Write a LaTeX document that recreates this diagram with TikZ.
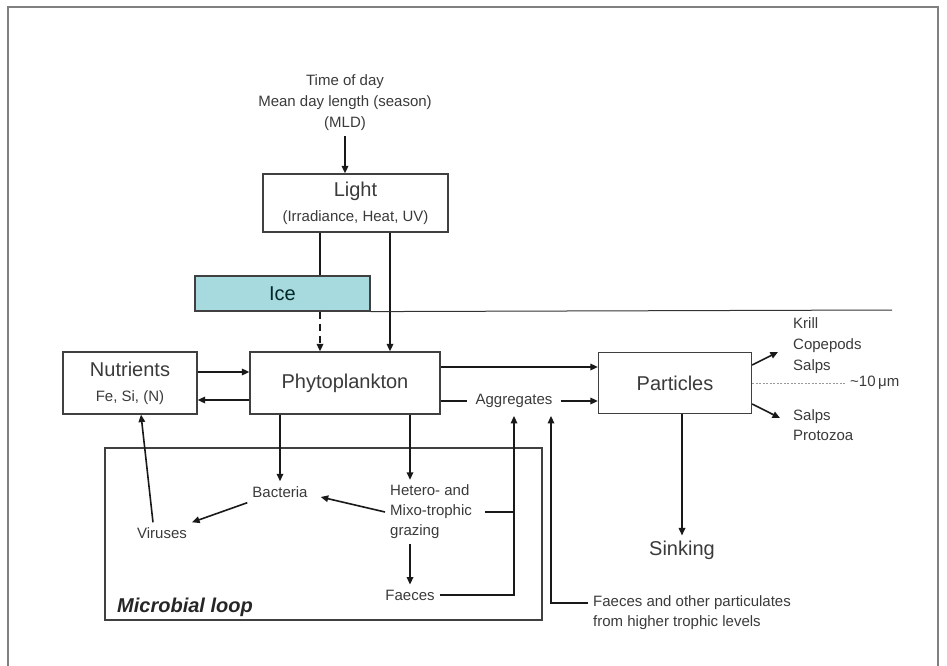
\documentclass[tikz,border=0pt]{standalone}
\usepackage{fontspec}
\setmainfont{Liberation Sans}
\usepackage{tikz}
\usetikzlibrary{arrows.meta}
\definecolor{icefill}{HTML}{A6DADF}
\definecolor{txtgray}{HTML}{3A3A3A}
\tikzset{
  fcbox/.style={draw=black!75, line width=1.2pt, inner sep=0pt, text=txtgray, align=center},
  fctwo/.style={font=\fontsize{15}{25}\selectfont},
  fctext/.style={inner sep=5pt, text=txtgray, font=\fontsize{15}{20}\selectfont},
  fcbig/.style={inner sep=5pt, text=txtgray, font=\fontsize{20}{24}\selectfont},
  fcline/.style={line width=1.6pt, draw=black!90},
  fcarrow/.style={fcline, -{Triangle[length=7.5pt,width=6.5pt]}}
}
\newcommand{\fcboxnode}[6] {\node at (#1) (#2) [fcbox, minimum width=#3, minimum height=#4, #5] {#6};}
\newcommand{\fctwolines}[2] {{\fontsize{20}{25}\selectfont #1}\\#2}

\begin{document}
\begin{tikzpicture}[x=1pt,y=-1pt]
\useasboundingbox (0,0) rectangle (947,666);

% frame
\draw [black!50, line width=1.5pt] (8,666) -- (8,7) -- (938,7) -- (938,666);

\fcboxnode {355.5,203} {light} {185pt} {58pt} {fctwo} {\fctwolines{Light}{(Irradiance, Heat, UV)}};
\fcboxnode {282.5,293.5} {ice} {175pt} {35pt} {fill=icefill, fcbig, inner sep=0pt, text=black!70!teal} {Ice};
\fcboxnode {345,383} {phyto} {190pt} {62pt} {fcbig, inner sep=0pt} {Phytoplankton};
\fcboxnode {130,383} {nutrients} {134pt} {62pt} {fctwo} {\fctwolines{Nutrients}{Fe, Si, (N)}};
\fcboxnode {675,383} {particles} {153pt} {61pt} {fcbig, inner sep=0pt} {Particles};
\fcboxnode {323.5,534} {loop} {437pt} {172pt} {} {};

\node at (345,103) (time) [fctext, align=center, font=\fontsize{15}{21}\selectfont]
  {Time of day\\Mean day length (season)\\(MLD)};
\node at (280,492) (bacteria) [fctext] {Bacteria};
\node at (385,512) (grazing) [fctext, anchor=west, align=left] {Hetero- and\\Mixo-trophic\\grazing};
\node at (162,533) (viruses) [fctext] {Viruses};
\node at (410,595) (faeces) [fctext] {Faeces};
\node at (514,401) (aggregates) [fctext, inner sep=8pt] {Aggregates};
\node at (682,550) (sinking) [fcbig] {Sinking};
\node at (788,346) (grazers) [fctext, anchor=west, align=left, font=\fontsize{15}{21}\selectfont] {Krill\\Copepods\\Salps};
\node at (788,425) (smallgrazers) [fctext, anchor=west, align=left] {Salps\\Protozoa};
\node at (845,383) (size) [fctext, anchor=west] {\textasciitilde10\,μm};
\node at (588,613) (higher) [fctext, anchor=west, align=left] {Faeces and other particulates\\from higher trophic levels};
\node at (112,607) (looplabel) [fcbig, anchor=west, font=\fontsize{20}{24}\selectfont\bfseries\itshape, text=black!85] {Microbial loop};

\coordinate (icex) at (320,0);
\coordinate (lightx) at (390,0);
\coordinate (grazex) at (410,0);
\coordinate (seaend) at (892,310);
\coordinate (nin) at ([yshift=11pt]nutrients.east);
\coordinate (nout) at ([yshift=-17pt]nutrients.east);
\coordinate (pup) at ([yshift=16pt]phyto.east);
\coordinate (krilltip) at (778,352);
\coordinate (salptip) at (780,418);

\draw [fcarrow] (time.south) -- (time.south |- light.north);
\draw [fcline] (light.south -| icex) -- (ice.north -| icex);
\draw [fcarrow, dashed, dash pattern=on 7pt off 5pt] (ice.south -| icex) -- (phyto.north -| icex);
\draw [fcarrow] (light.south -| lightx) -- (phyto.north -| lightx);
\draw [line width=1pt, black!80] (ice.south east) -- (seaend);

\draw [fcarrow] (nin) -- (nin -| phyto.west);
\draw [fcarrow] (nout -| phyto.west) -- (nout);
\draw [fcarrow] (pup) -- (pup -| particles.west);
\draw [fcline] (phyto.east |- aggregates) -- (aggregates.west);
\draw [fcarrow] (aggregates.east) -- (aggregates.east -| particles.west);

\draw [fcarrow] ([yshift=18pt]particles.east) -- (krilltip);
\draw [fcarrow] ([yshift=-21pt]particles.east) -- (salptip);
\draw [black!40, line width=1pt, dashed, dash pattern=on 2pt off 1.5pt] (particles.east) -- (size.west);
\draw [fcarrow] (particles.south -| sinking) -- (sinking.north);

\draw [fcarrow] (phyto.south -| bacteria) -- (bacteria.north);
\draw [fcarrow] (phyto.south -| grazex) -- (grazing.north -| grazex);
\draw [fcarrow] (grazing.west) -- ([xshift=8pt,yshift=-5pt]bacteria.east);
\draw [fcarrow] (bacteria.south west) -- (viruses.north east);
\draw [fcarrow] ([xshift=-9pt]viruses.north) -- ([xshift=11pt]nutrients.south);
\draw [fcarrow] (grazing.south -| faeces) -- (faeces.north);
\draw [fcarrow] (faeces.east) -| (aggregates.south);
\draw [fcline] ([xshift=8pt]grazing.east) -- (grazing -| aggregates);
\draw [fcarrow] ([yshift=10pt]higher.west) -| ([xshift=37pt]aggregates.south);

\end{tikzpicture}
\end{document}
